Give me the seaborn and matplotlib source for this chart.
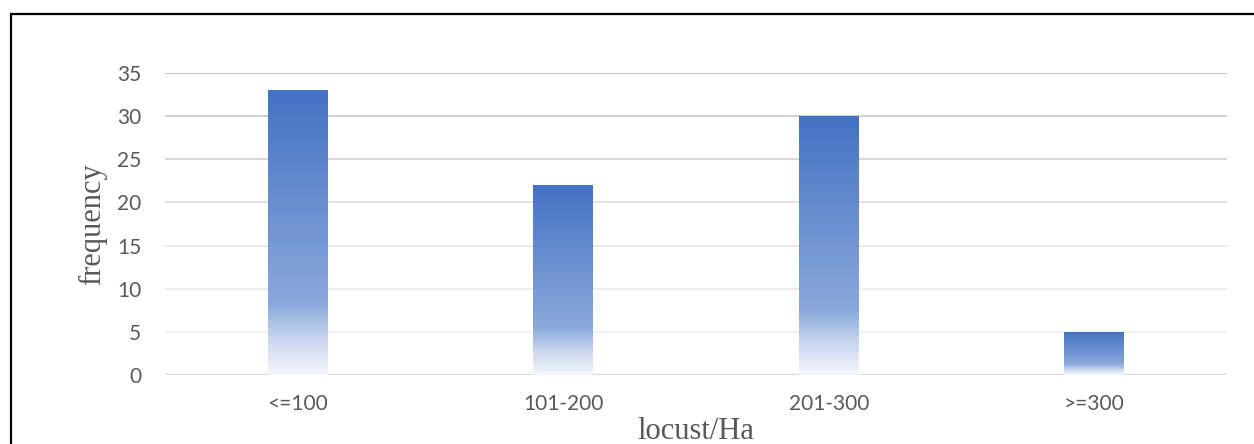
import numpy as np
import pandas as pd
import matplotlib
matplotlib.use("Agg")
import matplotlib.pyplot as plt
import seaborn as sns
from matplotlib.colors import LinearSegmentedColormap
from matplotlib.patches import Rectangle

# Density classes and how often each occurred
categories = ["<=100", "101-200", "201-300", ">=300"]
frequency = [33, 22, 30, 5]
y_ticks = [0, 5, 10, 15, 20, 25, 30, 35]

df = pd.DataFrame({"density": categories, "frequency": frequency})

sns.set_theme(style="white")
plt.rcParams["font.family"] = ["Lato", "DejaVu Sans"]

fig = plt.figure(figsize=(12.54, 4.44), dpi=100)
ax = fig.add_axes([0.1316, 0.1554, 0.8469, 0.6802])

sns.barplot(data=df, x="density", y="frequency", width=0.225,
            color="#4472C4", ax=ax, zorder=3)

ax.set_ylim(0, 35)
ax.set_xlim(-0.5, 3.5)
ax.set_yticks(y_ticks)

# horizontal gridlines
grid_colors = ["#D9D9D9", "#EEEEEE", "#ECECEC", "#E6E6E6", "#E0E0E0",
               "#D6D6D6", "#CACACA", "#C0C0C0"]
for yv, gc in zip(y_ticks, grid_colors):
    ax.axhline(yv, color=gc, lw=1.6 if yv == 0 else 1.3, zorder=1)

# vertical blue-to-white gradient inside each bar
cmap = LinearSegmentedColormap.from_list(
    "bar_fade",
    [(0.0, "#F4F7FC"), (0.12, "#CBD8EF"), (0.25, "#8AA8DB"), (1.0, "#4472C4")])
grad = np.linspace(0, 1, 256).reshape(-1, 1)
for patch in ax.patches:
    x0, y0 = patch.get_x(), patch.get_y()
    w, h = patch.get_width(), patch.get_height()
    patch.set_facecolor("none")
    patch.set_edgecolor("none")
    im = ax.imshow(grad, cmap=cmap, origin="lower", aspect="auto",
                   extent=(x0, x0 + w, y0, y0 + h), zorder=3,
                   interpolation="bilinear")
    im.set_clip_path(patch)
ax.set_xlim(-0.5, 3.5)
ax.set_ylim(0, 35)

for s in ax.spines.values():
    s.set_visible(False)

ax.tick_params(axis="y", length=0, pad=17, labelsize=15, labelcolor="#595959")
ax.tick_params(axis="x", length=0, pad=14, labelsize=15, labelcolor="#595959")

serif = ["Liberation Serif", "DejaVu Serif"]
ax.set_xlabel("locust/Ha", family=serif, fontsize=22, color="#595959",
              labelpad=1.5)
ax.set_ylabel("frequency", family=serif, fontsize=22, color="#595959",
              labelpad=7)

# outer frame of the chart area
fig.patches.append(Rectangle((10.5 / 1254, -0.1), 1.2, 1.1 - 14.5 / 444,
                             transform=fig.transFigure, fill=False,
                             edgecolor="black", lw=1.6, zorder=10))

fig.savefig("out.png", dpi=100, facecolor="white")
